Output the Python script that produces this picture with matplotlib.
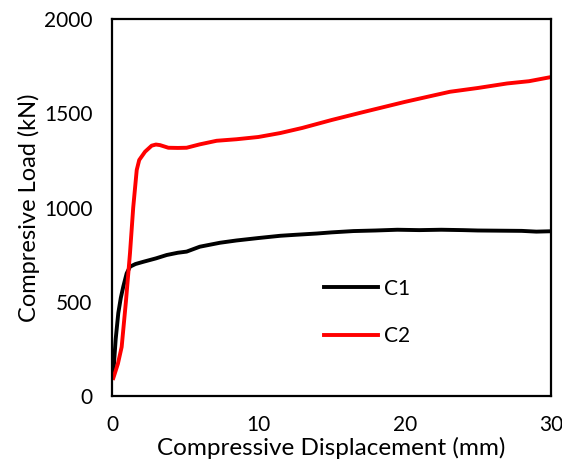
import matplotlib.pyplot as plt

# date
c1_x = [0.09, 0.25, 0.43, 0.6, 0.77, 1.0, 1.23, 1.6, 2.14, 3.0, 3.74, 4.5, 5.1, 6.0, 7.38, 8.5, 10, 11.5, 12.5, 14, 15, 16.5, 18, 19.5, 21, 22.5, 24, 25, 26.5, 28, 29, 30]
c1_y = [122, 300, 440, 520, 580, 650, 686, 700, 712, 730, 748, 760, 766, 792, 813, 825, 838, 850, 855, 862, 868, 875, 878, 882, 880, 882, 880, 878, 877, 876, 872, 874]

c2_x = [0.09, 0.4, 0.66, 0.95, 1.23, 1.45, 1.69, 1.86, 2.26, 2.71, 3.0, 3.28, 3.85, 4.5, 5.1, 6.0, 7.15, 8.5, 10, 11.5, 13, 15, 17, 20, 22, 23.1, 25, 27, 28.5, 30]
c2_y = [95, 170, 260, 500, 758, 1000, 1199, 1252, 1296, 1328, 1334, 1331, 1317, 1316, 1317, 1335, 1354, 1362, 1374, 1395, 1422, 1464, 1503, 1560, 1595, 1614, 1634, 1658, 1670, 1692]

plt.rcParams['font.family'] = ['Lato', 'DejaVu Sans']

fig = plt.figure(figsize=(5.62, 4.68), dpi=100)
ax = fig.add_axes([112 / 562, (468 - 396) / 468, (551 - 112) / 562, (396 - 19) / 468])

ax.plot(c1_x, c1_y, color='black', linewidth=2.8, label='C1')
ax.plot(c2_x, c2_y, color='#ff0000', linewidth=2.8, label='C2')

ax.set_xlim(0, 30)
ax.set_ylim(0, 2000)
ax.set_xticks([0, 10, 20, 30])
ax.set_yticks([0, 500, 1000, 1500, 2000])
ax.tick_params(length=0, labelsize=15, pad=14)
for s in ax.spines.values():
    s.set_linewidth(1.6)

ax.set_xlabel('Compressive Displacement (mm)', fontsize=17.5, labelpad=1)
ax.set_ylabel('Compresive Load (kN)', fontsize=17, labelpad=3)

ax.legend(frameon=False, fontsize=15, loc='center left', bbox_to_anchor=(0.44, 0.222),
          labelspacing=1.3, handlelength=2.6, handletextpad=0.3)

fig.savefig('out.png', dpi=100)
